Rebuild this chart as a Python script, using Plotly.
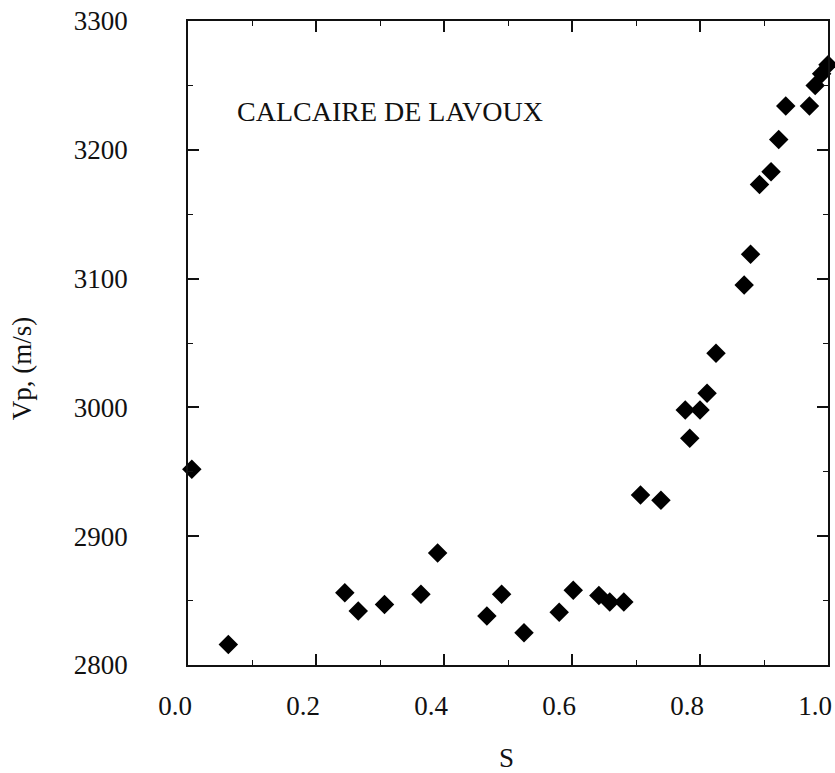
import plotly.graph_objects as go

# Saturation S and P-wave velocity Vp (m/s)
s_values = [0.006, 0.063, 0.245, 0.266, 0.307, 0.364, 0.390, 0.467, 0.490, 0.525,
            0.580, 0.602, 0.642, 0.659, 0.681, 0.707, 0.739, 0.777, 0.784, 0.800,
            0.811, 0.825, 0.869, 0.879, 0.893, 0.911, 0.923, 0.934, 0.971, 0.980,
            0.990, 1.000]
vp_values = [2952, 2816, 2856, 2842, 2847, 2855, 2887, 2838, 2855, 2825,
             2841, 2858, 2854, 2849, 2849, 2932, 2928, 2998, 2976, 2998,
             3011, 3042, 3095, 3119, 3173, 3183, 3208, 3234, 3234, 3250,
             3259, 3266]

x_tickvals = [0.0, 0.2, 0.4, 0.6, 0.8, 1.0]
x_ticktext = ["0.0", "0.2", "0.4", "0.6", "0.8", "1.0"]
y_tickvals = [2800, 2900, 3000, 3100, 3200, 3300]
y_ticktext = ["2800", "2900", "3000", "3100", "3200", "3300"]

label_text = "CALCAIRE DE LAVOUX"
x_title = "S"
y_title = "Vp, (m/s)"

FONT = "Liberation Serif, Times New Roman, serif"
INK = "#111111"

fig = go.Figure()
fig.add_trace(go.Scatter(
    x=s_values, y=vp_values, mode="markers",
    marker=dict(symbol="diamond", size=15, color="#000000", line=dict(width=0)),
    cliponaxis=False, showlegend=False,
))

axis_common = dict(
    showgrid=False, zeroline=False, showline=True, linecolor=INK, linewidth=1.5,
    mirror="ticks", ticks="inside", tickcolor=INK, tickwidth=1.5,
    tickfont=dict(family=FONT, size=27, color=INK),
    ticklabeloverflow="allow", automargin=False,
)

fig.update_xaxes(
    range=[0, 1], tickmode="array", tickvals=x_tickvals, ticktext=x_ticktext,
    ticklen=11, ticklabelstandoff=16, ticklabelshift=-13,
    minor=dict(dtick=0.1, ticks="inside", ticklen=5, tickcolor=INK, tickwidth=1.2),
    **axis_common,
)
fig.update_yaxes(
    range=[2800, 3300], tickmode="array", tickvals=y_tickvals, ticktext=y_ticktext,
    ticklen=11, ticklabelstandoff=53,
    minor=dict(dtick=50, ticks="inside", ticklen=5, tickcolor=INK, tickwidth=1.2),
    **axis_common,
)

fig.add_annotation(text=label_text, xref="paper", yref="paper", x=0.073, y=0.859,
                   xanchor="left", yanchor="middle", showarrow=False,
                   font=dict(family=FONT, size=28, color=INK))
fig.add_annotation(text=x_title, xref="paper", yref="paper", x=0.497, y=-0.145,
                   xanchor="center", yanchor="middle", showarrow=False,
                   font=dict(family=FONT, size=27, color=INK))
fig.add_annotation(text=y_title, xref="paper", yref="paper", x=-0.259, y=0.461,
                   xanchor="center", yanchor="middle", showarrow=False, textangle=-90,
                   font=dict(family=FONT, size=27, color=INK))

fig.update_layout(
    width=835, height=773,
    margin=dict(l=188, r=7, t=21, b=108),
    paper_bgcolor="white", plot_bgcolor="white",
)

# Remove the browser's default 8px body margin so the figure fills the window.
fig.write_html(
    "out.html",
    config={"displayModeBar": False},
    post_script="document.body.style.margin='0';document.body.style.overflow='hidden';",
)
